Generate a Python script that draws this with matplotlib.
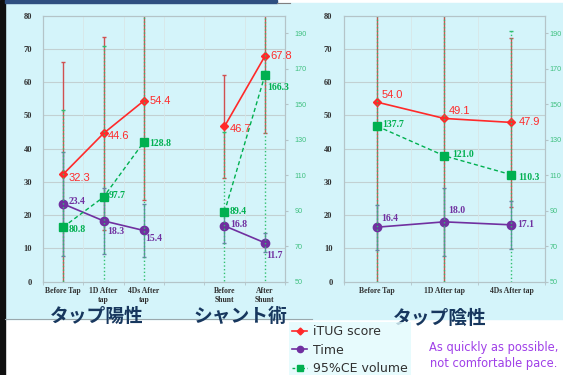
import numpy as np
import matplotlib
matplotlib.use("Agg")
import matplotlib.pyplot as plt
from matplotlib.lines import Line2D
from matplotlib.patches import Rectangle

# left chart: tap positive + shunt (slot 3 is an empty gap)
left_cats = ["Before Tap", "1D After\ntap", "4Ds After\ntap", "", "Before\nShunt", "After\nShunt"]
left_itug = [32.3, 44.6, 54.4, np.nan, 46.7, 67.8]
left_itug_err = [33.7, 29.0, 29.9, np.nan, 15.6, 23.2]
left_time = [23.4, 18.3, 15.4, np.nan, 16.8, 11.7]
left_time_err = [15.6, 10.0, 7.9, np.nan, 5.1, 2.9]
left_ce = [80.8, 97.7, 128.8, np.nan, 89.4, 166.3]
left_ce_err = [65.8, 85.4, 90.0, np.nan, 45.0, 120.0]

# right chart: tap negative
right_cats = ["Before Tap", "1D After tap", "4Ds After tap"]
right_itug = [54.0, 49.1, 47.9]
right_itug_err = [55.0, 50.0, 25.5]
right_time = [16.4, 18.0, 17.1]
right_time_err = [6.8, 10.2, 7.3]
right_ce = [137.7, 121.0, 110.3]
right_ce_err = [100.0, 90.0, 81.2]

RED = "#ff2a2a"
PURPLE = "#7030a0"
GREEN = "#00b050"
CYAN = "#d4f4fa"
NAVY = "#17375e"
JP = ["Noto Sans CJK JP", "DejaVu Sans"]

# label offsets in points (dx, dy) per point
left_off = {
    "itug": [(4, -3), (3, -2), (4, 0), None, (4, -2), (4, 0)],
    "time": [(4, 2), (3, -8), (1, -6), None, (4, 1), (1, -9)],
    "ce": [(4, -2), (4, 1), (4, -1), None, (4, 0), (2, -9)],
}
right_off = {
    "itug": [(3, 5), (3, 5), (5, 0)],
    "time": [(3, 6), (3, 8), (4, 0)],
    "ce": [(4, 1), (6, 1), (5, -2)],
}


def draw_chart(ax, cats, itug, itug_err, time, time_err, ce, ce_err, offs, rpad):
    x = np.arange(len(cats))
    ax2 = ax.twinx()
    for a in (ax, ax2):
        a.set_facecolor("none")
        for s in a.spines.values():
            s.set_color("#b4c4c8")
            s.set_linewidth(0.8)
    ax.set_xlim(-0.5, len(cats) - 0.5)
    ax.set_ylim(0, 80)
    ax2.set_ylim(50, 200)

    # gridlines
    for g in range(10, 80, 10):
        ax.axhline(g, color="#c2d0d2", lw=0.8, zorder=0)
    for k in range(1, len(cats)):
        ax.axvline(k - 0.5, color="#d8e6e8", lw=0.6, zorder=0)

    # error bars
    ax.errorbar(x, itug, yerr=itug_err, fmt="none", ecolor="#d05050",
                elinewidth=1.0, capsize=1.5, zorder=2)
    ax.errorbar(x, time, yerr=time_err, fmt="none", ecolor="#6a82a8",
                elinewidth=1.0, capsize=1.5, zorder=2)
    eb = ax2.errorbar(x, ce, yerr=ce_err, fmt="none", ecolor="#30c070",
                      elinewidth=1.0, capsize=1.5, zorder=2)
    eb[2][0].set_linestyle(":")

    ax.plot(x, itug, color=RED, lw=1.2, marker="D", ms=4.5, zorder=4)
    ax.plot(x, time, color=PURPLE, lw=1.2, marker="o", ms=6, zorder=4)
    ax2.plot(x, ce, color=GREEN, lw=1.0, ls=(0, (3, 2)), marker="s", ms=6, zorder=4)

    # data labels
    for i in range(len(cats)):
        if np.isnan(itug[i]):
            continue
        ax.annotate(f"{itug[i]:.1f}", (x[i], itug[i]), xytext=offs["itug"][i],
                    textcoords="offset points", color=RED, fontsize=8,
                    family="Liberation Sans", va="center", ha="left", zorder=6)
        ax.annotate(f"{time[i]:.1f}", (x[i], time[i]), xytext=offs["time"][i],
                    textcoords="offset points", color=PURPLE, fontsize=7,
                    family="Liberation Serif", weight="bold", va="center", ha="left", zorder=6)
        ax2.annotate(f"{ce[i]:.1f}", (x[i], ce[i]), xytext=offs["ce"][i],
                     textcoords="offset points", color=GREEN, fontsize=7,
                     family="Liberation Serif", weight="bold", va="center", ha="left", zorder=6)

    ax.set_yticks(range(0, 81, 10))
    ax.set_yticklabels([str(v) for v in range(0, 81, 10)], family="Liberation Serif",
                       weight="bold", fontsize=6, color="#303030")
    ax.tick_params(axis="y", length=0, pad=8)
    ax.set_xticks(x)
    ax.set_xticklabels(cats, family="Liberation Serif", weight="bold", fontsize=5.5,
                       color="#303030", linespacing=1.1)
    ax.set_xticks(np.arange(len(cats) + 1) - 0.5, minor=True)
    ax.tick_params(axis="x", which="major", length=0, pad=4)
    ax.tick_params(axis="x", which="minor", length=2.5, color="#b4c4c8")

    ax2.set_yticks(range(50, 200, 20))
    ax2.set_yticklabels([str(v) for v in range(50, 200, 20)], fontsize=5.2,
                        color="#40c080", family="Liberation Sans")
    ax2.tick_params(axis="y", length=2, color="#b4c4c8", pad=rpad)
    return ax2


fig = plt.figure(figsize=(5.63, 3.75), dpi=100)
fig.patch.set_facecolor("white")

# slide background pieces
fig.patches.append(Rectangle((5 / 563, 1 - 319 / 375), 558 / 563, 316 / 375,
                             transform=fig.transFigure, color=CYAN, zorder=-5))
fig.patches.append(Rectangle((0, 0), 5 / 563, 1, transform=fig.transFigure,
                             color="#101010", zorder=-4))
fig.patches.append(Rectangle((5 / 563, 1 - 2.5 / 375), 272 / 563, 2.5 / 375,
                             transform=fig.transFigure, color="#2f4f80", zorder=-4))
fig.lines.append(Line2D([277 / 563, 290 / 563], [1 - 2.5 / 375] * 2,
                        transform=fig.transFigure, color="#808080", lw=0.8))
fig.lines.append(Line2D([5 / 563, 312 / 563], [1 - 318.5 / 375] * 2,
                        transform=fig.transFigure, color="#9aa8ac", lw=0.8))

axl = fig.add_axes([43 / 563, 1 - 281.7 / 375, 242 / 563, 266 / 375])
draw_chart(axl, left_cats, left_itug, left_itug_err, left_time, left_time_err,
           left_ce, left_ce_err, left_off, 5)

axr = fig.add_axes([343.5 / 563, 1 - 281.7 / 375, 201.5 / 563, 266 / 375])
draw_chart(axr, right_cats, right_itug, right_itug_err, right_time, right_time_err,
           right_ce, right_ce_err, right_off, 1.5)

# group titles
fig.text(97 / 563, 1 - 316 / 375, "タップ陽性", family=JP, weight="bold",
         fontsize=13.5, color=NAVY, ha="center", va="center")
fig.text(240 / 563, 1 - 316 / 375, "シャント術", family=JP, weight="bold",
         fontsize=13.5, color=NAVY, ha="center", va="center")
fig.text(440 / 563, 1 - 318 / 375, "タップ陰性", family=JP, weight="bold",
         fontsize=13.5, color=NAVY, ha="center", va="center")

# legend
handles = [
    Line2D([], [], color=RED, lw=1.2, marker="D", ms=3.5),
    Line2D([], [], color=PURPLE, lw=1.2, marker="o", ms=4.5),
    Line2D([], [], color=GREEN, lw=1.0, ls=(0, (2, 1.5)), marker="s", ms=4.5),
]
leg = fig.legend(handles, ["iTUG score", "Time", "95%CE volume"],
                 loc="upper left", bbox_to_anchor=(289 / 563, 1 - 322 / 375),
                 frameon=True, fancybox=False, handlelength=1.2,
                 handletextpad=0.5, labelspacing=0.45, borderpad=0.25,
                 borderaxespad=0, prop={"family": "DejaVu Sans", "size": 9})
leg.get_frame().set_facecolor("#e2fbfd")
leg.get_frame().set_edgecolor("none")
for t in leg.get_texts():
    t.set_color("#303030")

fig.text(494 / 563, 1 - 356 / 375, "As quickly as possible,\nnot comfortable pace.",
         color="#a040e8", fontsize=8.3, ha="center", va="center", linespacing=1.3,
         family="DejaVu Sans")

fig.savefig("out.png", dpi=100, facecolor=fig.get_facecolor())
